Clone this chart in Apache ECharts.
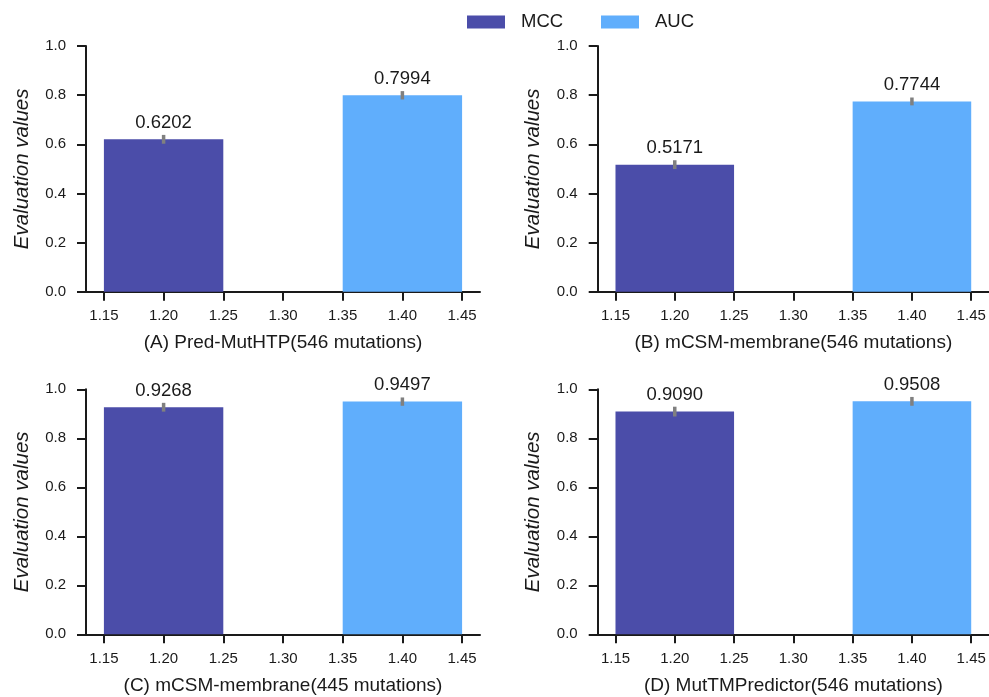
<!DOCTYPE html>
<html>
<head>
<meta charset="utf-8">
<script src="https://cdn.jsdelivr.net/npm/echarts@6/dist/echarts.min.js"></script>
<style>
  html, body { margin: 0; padding: 0; background: #fff; }
  #chart { width: 989px; height: 697px; }
</style>
</head>
<body>
<div id="chart"></div>
<script>
var panelNames = [
    '(A) Pred-MutHTP(546 mutations)',
    '(B) mCSM-membrane(546 mutations)',
    '(C) mCSM-membrane(445 mutations)',
    '(D) MutTMPredictor(546 mutations)'
];
var mccValues = [0.6202, 0.5171, 0.9268, 0.9090];
var aucValues = [0.7994, 0.7744, 0.9497, 0.9508];
var mccErrors = [0.018, 0.018, 0.018, 0.020];
var aucErrors = [0.017, 0.016, 0.017, 0.018];
var barPositions = [1.2, 1.4];
var xTicks = [1.15, 1.20, 1.25, 1.30, 1.35, 1.40, 1.45];

var font = 'Liberation Sans, Arial, sans-serif';
var ink = '#1a1a1a';
var colMCC = '#4b4da9';
var colAUC = '#60aefc';
var halfBar = 0.05;

var myChart = echarts.init(document.getElementById('chart'));

var grids = [
    { left: 86, top: 46, width: 394, height: 245.7 },
    { left: 597.7, top: 46, width: 394, height: 245.7 },
    { left: 86, top: 389.3, width: 394, height: 245 },
    { left: 597.7, top: 389.3, width: 394, height: 245 }
];

function renderBar(params, api) {
    var x = api.value(0), v = api.value(1), e = api.value(2);
    var p0 = api.coord([x - halfBar, 0]);
    var p1 = api.coord([x + halfBar, v]);
    var eTop = api.coord([x, v + e]);
    var eBot = api.coord([x, v - e]);
    return {
        type: 'group',
        children: [{
            type: 'rect',
            shape: { x: p0[0], y: p1[1], width: p1[0] - p0[0], height: p0[1] - p1[1] },
            style: { fill: api.visual('color') },
            textContent: {
                style: { text: v.toFixed(4), fontSize: 18.5, fill: ink, fontFamily: font }
            },
            textConfig: { position: 'top', distance: 7 }
        }, {
            type: 'line',
            shape: { x1: eTop[0], y1: eTop[1], x2: eBot[0], y2: eBot[1] },
            style: { stroke: '#808080', lineWidth: 3.5 },
            z2: 10
        }]
    };
}

var xAxes = [], yAxes = [], series = [];
panelNames.forEach(function (name, i) {
    xAxes.push({
        type: 'value', gridIndex: i, min: 1.135, max: 1.465,
        name: name, nameLocation: 'middle', nameGap: 42,
        nameTextStyle: { fontSize: 19, color: ink, fontFamily: font },
        axisLine: { lineStyle: { color: ink, width: 2 } },
        axisTick: { length: 9, lineStyle: { width: 2, color: ink }, customValues: xTicks },
        axisLabel: {
            customValues: xTicks, margin: 17, fontSize: 15, color: ink, fontFamily: font,
            formatter: function (v) { return v.toFixed(2); }
        },
        splitLine: { show: false }
    });
    yAxes.push({
        type: 'value', gridIndex: i, min: 0, max: 1, interval: 0.2,
        name: 'Evaluation values', nameLocation: 'middle', nameGap: 54,
        nameTextStyle: { fontSize: 20.5, fontStyle: 'italic', color: ink, fontFamily: font },
        axisLine: { show: true, lineStyle: { color: ink, width: 2 } },
        axisTick: { show: true, length: 9, lineStyle: { width: 2, color: ink } },
        axisLabel: {
            margin: 20, fontSize: 15, color: ink, fontFamily: font,
            formatter: function (v) { return v.toFixed(1); }
        },
        splitLine: { show: false }
    });
    series.push({
        name: 'MCC', type: 'custom', xAxisIndex: i, yAxisIndex: i,
        itemStyle: { color: colMCC },
        renderItem: renderBar,
        data: [[barPositions[0], mccValues[i], mccErrors[i]]]
    });
    series.push({
        name: 'AUC', type: 'custom', xAxisIndex: i, yAxisIndex: i,
        itemStyle: { color: colAUC },
        renderItem: renderBar,
        data: [[barPositions[1], aucValues[i], aucErrors[i]]]
    });
});

var legendBase = {
    top: 12.5, padding: 0, itemWidth: 38, itemHeight: 13, icon: 'rect',
    textStyle: { fontSize: 18.5, color: ink, fontFamily: font, padding: [0, 0, 0, 11] }
};

var option = {
    animation: false,
    backgroundColor: '#fff',
    legend: [
        Object.assign({ data: ['MCC'], left: 467 }, legendBase),
        Object.assign({ data: ['AUC'], left: 601 }, legendBase)
    ],
    grid: grids,
    xAxis: xAxes,
    yAxis: yAxes,
    series: series
};
myChart.setOption(option);
</script>
</body>
</html>
